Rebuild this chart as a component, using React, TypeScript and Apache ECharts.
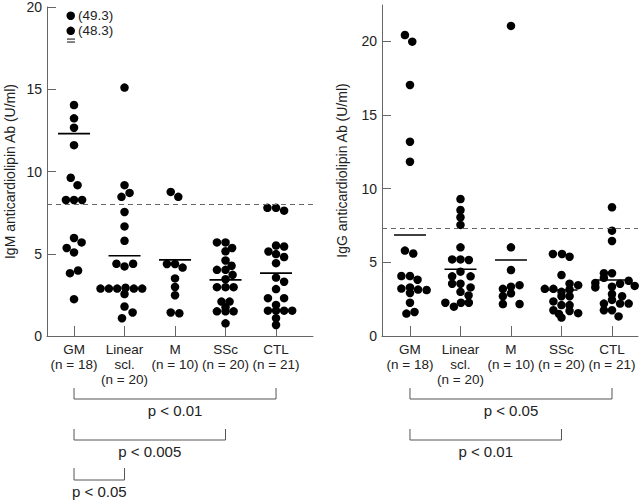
import React, { useEffect, useRef } from 'react';
import * as echarts from 'echarts';

const FONT = '"Liberation Sans", Arial, sans-serif';
const AXIS = '#666';
const INK = '#000';

const categoryLabels = ['GM\n(n = 18)', 'Linear\nscl.\n(n = 20)', 'M\n(n = 10)', 'SSc\n(n = 20)', 'CTL\n(n = 21)'];
const categoryIdx = [0, 1, 2, 3, 4];
const yTicks = [0, 5, 10, 15, 20];

const igmName = 'IgM anticardiolipin Ab (U/ml)';
const iggName = 'IgG anticardiolipin Ab (U/ml)';

// [horizontal offset inside the group (in category units), value]
const igmGM = [[0, 14.04], [0, 13.23], [0, 12.66], [0, 11.6], [-0.065, 9.62], [0.07, 9.17], [-0.16, 8.27], [0, 8.27], [0.16, 8.27], [0, 5.96], [0.15, 5.69], [-0.145, 5.35], [0, 5.08], [0.08, 3.98], [-0.08, 3.82], [0, 2.24]];
const igmLinear = [[0, 15.1], [0, 9.17], [0.1, 8.7], [-0.06, 8.46], [0, 7.54], [0, 6.66], [0, 5.79], [-0.16, 4.39], [0, 4.23], [0.17, 4.39], [-0.475, 2.88], [-0.31, 2.88], [-0.145, 2.88], [0.02, 2.93], [0.185, 2.88], [0.35, 2.88], [0, 2.55], [0, 1.79], [0.16, 1.43], [-0.05, 1.08]];
const igmM = [[-0.085, 8.76], [0.065, 8.46], [-0.16, 4.38], [0, 4.38], [0.15, 4.16], [0, 3.5], [0, 2.98], [0, 2.48], [-0.085, 1.43], [0.085, 1.38]];
const igmSSc = [[-0.17, 5.69], [0, 5.69], [0.13, 5.35], [0, 5.15], [0, 4.59], [0.12, 4.27], [-0.17, 4.02], [0, 4.02], [0.14, 3.72], [0, 3.45], [-0.17, 2.97], [0, 2.97], [0.16, 2.97], [-0.08, 2.09], [0.08, 2.09], [0, 1.75], [-0.17, 1.5], [0, 1.5], [0.16, 1.5], [0, 0.77]];
const igmCTL = [[-0.17, 7.79], [0, 7.79], [0.16, 7.62], [0, 5.5], [0.16, 5.44], [-0.15, 5.14], [0, 4.98], [0.16, 4.8], [0, 4.43], [0, 3.55], [0.16, 3.3], [0, 2.85], [-0.16, 2.3], [0.16, 2.3], [0, 1.89], [-0.16, 1.54], [0, 1.54], [0.16, 1.54], [0.32, 1.54], [0, 1.08], [0, 0.67]];
// off-scale GM values: [offset, plotted position, real value label]
const igmOutliers: [number, number, string][] = [[-0.065, 19.47, '(49.3)'], [-0.065, 18.55, '(48.3)']];
const igmBreakMarks = [[-0.06, 18.05], [-0.06, 17.87]];
const igmMeans = [12.3, 4.88, 4.63, 3.41, 3.82];
const igmCutoff = 8.0;

const iggGM = [[-0.1, 20.43], [0.045, 19.98], [0, 17.04], [0, 13.19], [0, 11.83], [-0.1, 5.8], [0.065, 5.6], [-0.17, 4.07], [0, 4.07], [0.15, 3.82], [-0.17, 3.22], [0, 3.3], [0.16, 3.15], [0.33, 3.12], [0, 2.92], [0, 2.26], [-0.07, 1.52], [0.09, 1.63]];
const iggLinear = [[0, 9.3], [0, 8.55], [0, 8.06], [0, 7.54], [0, 6.02], [-0.165, 5.2], [0, 5.2], [0.165, 5.16], [0, 4.37], [-0.165, 4.05], [0.2, 4.05], [-0.165, 3.55], [0, 3.55], [0.2, 3.3], [0, 3.0], [0.16, 2.75], [-0.3, 2.26], [-0.13, 1.99], [0.01, 2.26], [0.165, 2.26]];
const iggM = [[0, 21.05], [0, 6.02], [0, 4.48], [0.17, 3.45], [-0.16, 3.2], [0, 3.35], [-0.16, 2.7], [0, 2.9], [-0.16, 2.17], [0.17, 2.17]];
const iggSSc = [[-0.17, 5.57], [0.01, 5.57], [0.16, 5.38], [0, 4.14], [0.16, 3.55], [0.33, 3.45], [-0.33, 3.2], [-0.16, 3.2], [0.16, 3.15], [0, 3.0], [0, 2.7], [0.16, 2.7], [-0.16, 2.35], [0, 2.1], [0.16, 2.1], [-0.16, 1.75], [0.16, 1.7], [0.33, 1.55], [-0.05, 1.5], [0, 1.25]];
const iggCTL = [[0, 8.74], [0, 7.15], [0, 6.45], [-0.16, 4.26], [0, 4.26], [-0.16, 3.95], [0.33, 3.75], [-0.33, 3.6], [0.16, 3.55], [0, 3.35], [0.45, 3.4], [-0.33, 3.3], [0, 2.85], [0.2, 2.7], [0, 2.45], [-0.16, 2.2], [0.16, 2.2], [0.33, 2.2], [-0.16, 1.75], [0, 1.75], [0.13, 1.33]];
const iggMeans = [6.86, 4.53, 5.16, 3.12, 3.8];
const iggCutoff = 7.3;

const igmBrackets: [number, number, string][] = [[0, 4, 'p < 0.01'], [0, 3, 'p < 0.005'], [0, 1, 'p < 0.05']];
const iggBrackets: [number, number, string][] = [[0, 4, 'p < 0.05'], [0, 3, 'p < 0.01']];

export default function App() {
  const ref = useRef<HTMLDivElement>(null);
  useEffect(() => {
    const chart = echarts.init(ref.current!, null, { renderer: 'svg' });
    const toPoints = (groups: number[][][]) => groups.flatMap((g, i) => g.map(([dx, v]) => [i + dx, v]));
    const meanData = (m: number[]) => m.map((v, i) => [i, v]);

    const xAxis = (gridIndex: number, min: number, max: number) => ({
      type: 'value', gridIndex, min, max,
      splitLine: { show: false },
      axisLine: { show: true, onZero: false, lineStyle: { color: AXIS, width: 1 } },
      axisTick: { show: true, inside: true, length: 10, customValues: categoryIdx, lineStyle: { color: AXIS } },
      axisLabel: {
        show: true, customValues: categoryIdx, margin: 6,
        formatter: (v: number) => categoryLabels[Math.round(v)],
        fontFamily: FONT, fontSize: 13.5, color: '#222', lineHeight: 15,
      },
    });
    const yAxis = (gridIndex: number, max: number, name: string, gap: number) => ({
      type: 'value', gridIndex, min: 0, max,
      name, nameLocation: 'middle', nameGap: gap,
      nameTextStyle: { fontFamily: FONT, fontSize: 14, color: '#222' },
      splitLine: { show: false },
      axisLine: { show: true, onZero: false, lineStyle: { color: AXIS, width: 1 } },
      axisTick: { show: true, inside: true, length: 9, customValues: yTicks, lineStyle: { color: AXIS } },
      axisLabel: { show: true, customValues: yTicks, margin: 5, fontFamily: FONT, fontSize: 14, color: '#222' },
    });
    const cutoffLine = (v: number) => ({
      silent: true, symbol: 'none', label: { show: false },
      lineStyle: { type: [5, 4], color: '#666', width: 1 },
      data: [{ yAxis: v }],
    });
    const dot = { color: INK, opacity: 1 };

    chart.setOption({
      animation: false,
      backgroundColor: '#fff',
      grid: [
        { left: 47, top: 5, width: 266, height: 331 },
        { left: 382, top: 5, width: 256, height: 331 },
      ],
      xAxis: [xAxis(0, -0.535, 4.732), xAxis(1, -0.554, 4.515)],
      yAxis: [yAxis(0, 20, igmName, 30), yAxis(1, 22.47, iggName, 33)],
      series: [
        {
          type: 'scatter', xAxisIndex: 0, yAxisIndex: 0, symbolSize: 8.5,
          itemStyle: dot, data: toPoints([igmGM, igmLinear, igmM, igmSSc, igmCTL]),
        },
        {
          type: 'scatter', xAxisIndex: 0, yAxisIndex: 0, symbolSize: 8.5, itemStyle: dot,
          data: igmOutliers.map(([dx, v, t]) => ({ value: [dx, v], name: t })),
          label: { show: true, position: 'right', distance: 3, formatter: '{b}', fontFamily: FONT, fontSize: 13.5, lineHeight: 13, color: '#222' },
        },
        {
          type: 'scatter', xAxisIndex: 0, yAxisIndex: 0, symbol: 'rect', symbolSize: [8, 1.2],
          itemStyle: { color: '#333', opacity: 1 }, data: igmBreakMarks,
        },
        {
          type: 'scatter', xAxisIndex: 0, yAxisIndex: 0, symbol: 'rect', symbolSize: [32, 1.6],
          itemStyle: dot, data: meanData(igmMeans), markLine: cutoffLine(igmCutoff),
        },
        {
          type: 'scatter', xAxisIndex: 1, yAxisIndex: 1, symbolSize: 8.5,
          itemStyle: dot, data: toPoints([iggGM, iggLinear, iggM, iggSSc, iggCTL]),
        },
        {
          type: 'scatter', xAxisIndex: 1, yAxisIndex: 1, symbol: 'rect', symbolSize: [32, 1.6],
          itemStyle: dot, data: meanData(iggMeans), markLine: cutoffLine(iggCutoff),
        },
      ],
    });

    const rows = [
      { top: 388, bottom: 399, text: 410 },
      { top: 429, bottom: 440, text: 451 },
      { top: 468, bottom: 480, text: 491 },
    ];
    const graphics: any[] = [];
    const addBrackets = (list: [number, number, string][], axisIndex: number) => {
      list.forEach(([a, b, t], k) => {
        const x1 = chart.convertToPixel({ xAxisIndex: axisIndex }, a) as number;
        const x2 = chart.convertToPixel({ xAxisIndex: axisIndex }, b) as number;
        const r = rows[k];
        graphics.push({
          type: 'polyline', silent: true,
          shape: { points: [[x1, r.top], [x1, r.bottom], [x2, r.bottom], [x2, r.top]] },
          style: { stroke: '#555', fill: 'none', lineWidth: 1 },
        });
        graphics.push({
          type: 'text', silent: true, x: (x1 + x2) / 2, y: r.text,
          style: { text: t, fontFamily: FONT, fontSize: 15, fill: '#222', align: 'center', verticalAlign: 'middle' },
        });
      });
    };
    addBrackets(igmBrackets, 0);
    addBrackets(iggBrackets, 1);
    chart.setOption({ graphic: graphics });

    return () => chart.dispose();
  }, []);
  return <div ref={ref} style={{ position: 'fixed', left: 0, top: 0, width: 640, height: 500, background: '#fff' }} />;
}
